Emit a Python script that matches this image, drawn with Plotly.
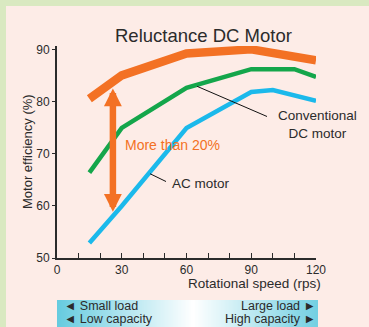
import numpy as np
import plotly.graph_objects as go

# ---- data -------------------------------------------------------------
speed_reluctance = [15, 30, 60, 80, 90, 120]
eff_reluctance = [80.6, 85.1, 89.3, 90.1, 90.1, 88.0]

speed_conventional = [15, 30, 60, 90, 110, 120]
eff_conventional = [66.4, 75.0, 82.7, 86.3, 86.3, 84.8]

speed_ac = [15, 30, 60, 90, 100, 120]
eff_ac = [52.9, 60.0, 75.0, 81.9, 82.3, 80.2]

x_ticks = [0, 30, 60, 90, 120]
y_ticks = [50, 60, 70, 80, 90]

# ---- styling ----------------------------------------------------------
W, H = 369, 327
ML, MR, MT = 57, 50, 46          # plot margins in px
PW = W - ML - MR                  # width of paper area used by axes
PH = H - MT                       # height of paper area used by axes

ORANGE = "#f37124"
GREEN = "#14a64b"
BLUE = "#1bb9eb"
INK = "#2b2b2b"
PINK = "#fdece7"
LEAF = "#d9e9c1"
CYAN = "#66cbdf"
FONT = "Liberation Sans, Arial, sans-serif"


def px(x):
    """Pixel x -> paper x."""
    return (x - ML) / PW


def py(y):
    """Pixel y -> paper y."""
    return (H - y) / PH


fig = go.Figure()

fig.add_trace(go.Scatter(x=speed_ac, y=eff_ac, mode="lines",
                         line=dict(color=BLUE, width=4.5), hoverinfo="skip"))
fig.add_trace(go.Scatter(x=speed_conventional, y=eff_conventional, mode="lines",
                         line=dict(color=GREEN, width=4.5), hoverinfo="skip"))
fig.add_trace(go.Scatter(x=speed_reluctance, y=eff_reluctance, mode="lines",
                         line=dict(color=ORANGE, width=8.5), hoverinfo="skip"))

# gradient band under the x axis (load / capacity scale)
band_x = np.linspace(0, 1, 201)
band_z = [list(np.abs(band_x - 0.52) / 0.52)]
fig.add_trace(go.Heatmap(x=band_x, y=[0, 1], z=band_z * 2, xaxis="x2", yaxis="y2",
                         colorscale=[[0, "#ffffff"], [1, CYAN]], zmin=0, zmax=1,
                         zsmooth="best", showscale=False, hoverinfo="skip"))

main_bottom = py(258)

fig.update_layout(
    template="none",
    width=W, height=H,
    margin=dict(l=ML, r=MR, t=MT, b=0, pad=0, autoexpand=False),
    paper_bgcolor=PINK, plot_bgcolor="rgba(0,0,0,0)",
    showlegend=False,
    font=dict(family=FONT, color=INK, size=12),
    xaxis=dict(domain=[0, (316 - ML) / PW], range=[0, 120], anchor="y",
               automargin=False,
               showline=True, linecolor=INK, linewidth=2,
               tickvals=x_ticks, ticks="inside", ticklen=5, tickwidth=1.2,
               tickcolor=INK, showgrid=False, zeroline=False,
               minor=dict(dtick=10, ticks="inside", ticklen=5, tickwidth=1.2,
                          tickcolor=INK, showgrid=False),
               tickfont=dict(size=12, color=INK)),
    yaxis=dict(domain=[main_bottom, 1], range=[50, 90.75], anchor="x",
               automargin=False,
               showline=True, linecolor=INK, linewidth=2,
               tickvals=y_ticks, ticks="outside", ticklen=3,
               tickwidth=1.2, tickcolor=INK, showgrid=False, zeroline=False,
               tickfont=dict(size=12, color=INK)),
    xaxis2=dict(domain=[0, (318 - ML) / PW], range=[0, 1], anchor="y2",
                visible=False, automargin=False),
    yaxis2=dict(domain=[0, py(300)], range=[0, 1], anchor="x2", visible=False,
                automargin=False),
)

shapes = [
    # green frame along the left and top edges
    dict(type="rect", xref="paper", yref="paper", x0=px(0), x1=px(6),
         y0=py(H), y1=py(0), fillcolor=LEAF, line_width=0, layer="below"),
    dict(type="rect", xref="paper", yref="paper", x0=px(0), x1=px(W),
         y0=py(6), y1=py(0), fillcolor=LEAF, line_width=0, layer="below"),
    # leader lines for the curve labels
    dict(type="line", xref="x", yref="y", x0=64.9, y0=83.0, x1=97.3, y1=77.2,
         line=dict(color="#111111", width=1)),
    dict(type="line", xref="x", yref="y", x0=43.1, y0=66.2, x1=50.5, y1=64.7,
         line=dict(color="#111111", width=1)),
]
fig.update_layout(shapes=shapes)

annotations = [
    dict(text="Reluctance DC Motor", xref="paper", yref="paper",
         x=px(203), y=py(35), xanchor="center", yanchor="middle",
         showarrow=False, font=dict(size=18.5, color=INK)),
    dict(text="Motor efficiency (%)", xref="paper", yref="paper",
         x=px(27), y=py(152), xanchor="center", yanchor="middle",
         textangle=-90, showarrow=False, font=dict(size=13, color=INK)),
    dict(text="Rotational speed (rps)", xref="paper", yref="paper",
         x=px(323), y=py(283), xanchor="right", yanchor="middle",
         showarrow=False, font=dict(size=13.5, color=INK)),
    dict(text="Conventional<br>DC motor", xref="paper", yref="paper",
         x=px(317), y=py(124), xanchor="center", yanchor="middle",
         showarrow=False, align="center", font=dict(size=13.5, color=INK)),
    dict(text="AC motor", xref="paper", yref="paper",
         x=px(170), y=py(183), xanchor="left", yanchor="middle",
         showarrow=False, font=dict(size=13.5, color=INK)),
    dict(text="More than 20%", xref="paper", yref="paper",
         x=px(123), y=py(145), xanchor="left", yanchor="middle",
         showarrow=False, font=dict(size=14, color=ORANGE)),
    # double-headed gap arrow
    dict(x=25.9, y=82.6, ax=25.9, ay=58.6, xref="x", yref="y",
         axref="x", ayref="y", text="", showarrow=True,
         arrowhead=2, startarrowhead=2, arrowside="end+start",
         arrowsize=0.55, startarrowsize=0.55, arrowwidth=6.5,
         arrowcolor=ORANGE),
]

# labels on the gradient band, one annotation per row for tight spacing
band_left = ["◄ Small load", "◄ Low capacity"]
band_right = ["Large load ►", "High capacity ►"]
for row_y, left_txt, right_txt in zip([306, 318.5], band_left, band_right):
    annotations.append(dict(text=left_txt, xref="paper", yref="paper",
                            x=px(62), y=py(row_y), xanchor="left",
                            yanchor="middle", showarrow=False,
                            font=dict(size=12.5, color=INK)))
    annotations.append(dict(text=right_txt, xref="paper", yref="paper",
                            x=px(318), y=py(row_y), xanchor="right",
                            yanchor="middle", showarrow=False,
                            font=dict(size=12.5, color=INK)))
fig.update_layout(annotations=annotations)

fig.write_html("out.html")
